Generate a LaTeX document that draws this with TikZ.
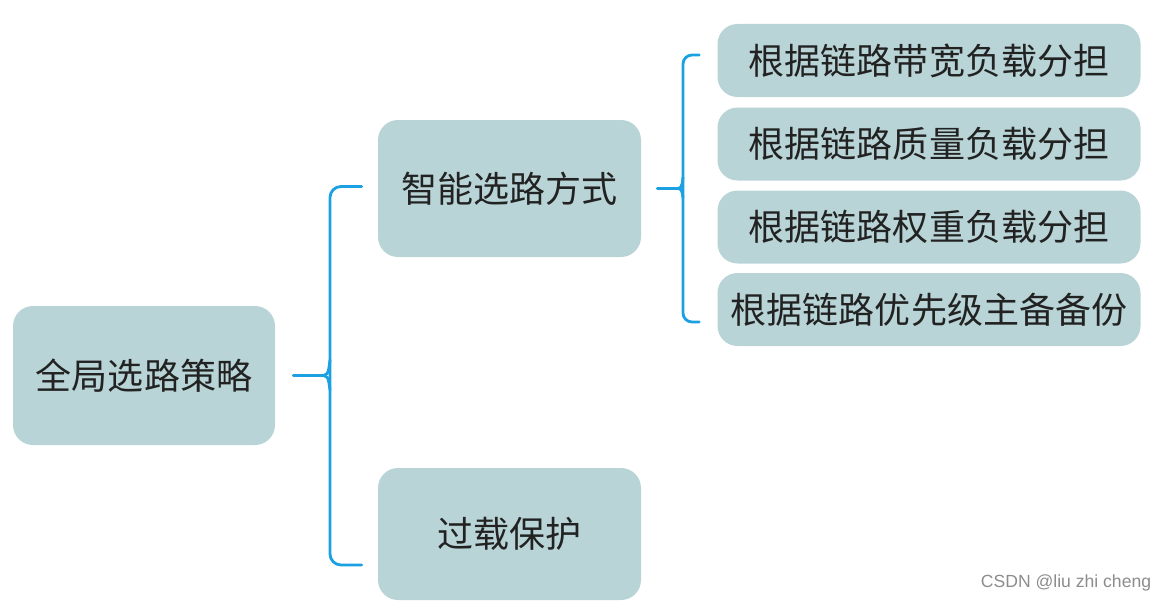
\documentclass[tikz,border=0pt]{standalone}
\usepackage{fontspec}
\newfontfamily\cjk{Noto Sans CJK SC}
\newfontfamily\wmfont{Liberation Sans}
\usepackage{tikz}
\usetikzlibrary{positioning, calc}
\usepackage{xcolor}
\definecolor{boxfill}{HTML}{B8D4D6}
\definecolor{linkblue}{HTML}{1BA1E2}
\definecolor{txtdark}{HTML}{222222}

\begin{document}
\begin{tikzpicture}[
	topic/.style={draw=none, fill=boxfill, rounded corners=0.4cm, inner sep=0pt,
		font=\cjk\fontsize{20.5}{24}\selectfont, text=txtdark},
	link/.style={draw=linkblue, line width=1.6pt, line cap=round}
	]
	\useasboundingbox (0,0) rectangle (23.36,-12.04);

	% Raiz
	\node[topic, minimum width=5.24cm, minimum height=2.78cm] (root) at (2.88,-7.51) {全局选路策略};

	% Segundo nivel
	\node[topic, minimum width=5.26cm, minimum height=2.74cm] (smart) at (10.19,-3.77) {智能选路方式};
	\node[topic, minimum width=5.26cm, minimum height=2.64cm] (guard) at (10.19,-10.68) {过载保护};

	% Hojas
	\foreach \i/\y/\txt in {1/-1.21/根据链路带宽负载分担, 2/-2.88/根据链路质量负载分担,
		3/-4.54/根据链路权重负载分担, 4/-6.19/根据链路优先级主备备份}
		\node[topic, minimum width=8.46cm, minimum height=1.46cm] (l\i) at (18.58,\y) {\txt};

	% Llave 1
	\coordinate (b1s) at ($(root.east)+(0.36,0)$);
	\coordinate (b1t) at ($(smart.west)+(-0.32,0.04)$);
	\coordinate (b1b) at ($(guard.west)+(-0.32,-0.62)$);
	\draw[link, rounded corners=0.22cm] (b1t) -- (6.6,0 |- b1t) -- (6.6,0 |- b1b) -- (b1b);
	\draw[link] (b1s) -- (6.38,0 |- b1s) .. controls (6.56,0 |- b1s) .. (6.6,-7.2);
	\draw[link] (6.38,0 |- b1s) .. controls (6.56,0 |- b1s) .. (6.6,-7.8);

	% Llave 2
	\coordinate (b2s) at ($(smart.east)+(0.32,0)$);
	\coordinate (b2t) at ($(l1.west)+(-0.36,0.11)$);
	\coordinate (b2b) at ($(l4.west)+(-0.36,-0.25)$);
	\draw[link, rounded corners=0.18cm] (b2t) -- (13.66,0 |- b2t) -- (13.66,0 |- b2b) -- (b2b);
	\draw[link] (b2s) -- (13.5,0 |- b2s) .. controls (13.63,0 |- b2s) .. (13.66,-3.55);
	\draw[link] (13.5,0 |- b2s) .. controls (13.63,0 |- b2s) .. (13.66,-3.95);

	\node[font=\wmfont\fontsize{10}{12}\selectfont, text=black!45] (mark) at (21.32,-11.66) {CSDN @liu zhi cheng};
\end{tikzpicture}
\end{document}
